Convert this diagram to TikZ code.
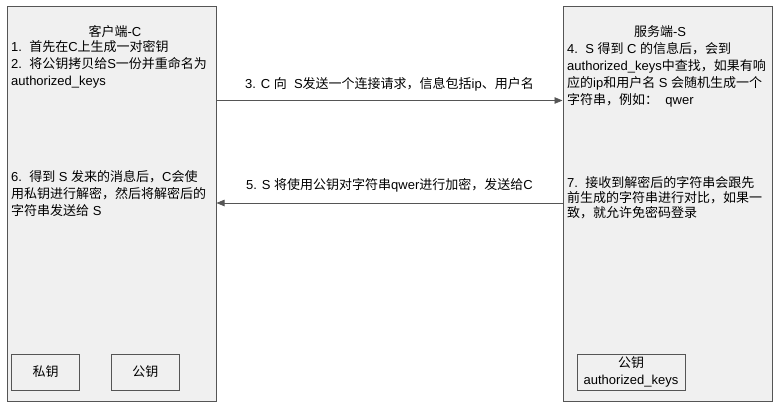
\documentclass[tikz,border=0pt]{standalone}
\usepackage{fontspec}
\setmainfont{Liberation Sans}
\newfontfamily\cjkfont{Noto Sans CJK SC}
\newfontfamily\latfont{Liberation Sans}
\XeTeXinterchartokenstate=1
\newXeTeXintercharclass\cjkclass
\newcount\charidx
\def\setcjkrange#1#2{\charidx=#1\relax
 \loop\XeTeXcharclass\charidx=\cjkclass\advance\charidx by 1\relax\ifnum\charidx<#2\relax\repeat}
\setcjkrange{"3000}{"3040}
\setcjkrange{"4E00}{"A000}
\setcjkrange{"FF00}{"FFF0}
\XeTeXinterchartoks 0 \cjkclass = {\cjkfont}
\XeTeXinterchartoks 4095 \cjkclass = {\cjkfont}
\XeTeXinterchartoks \cjkclass 0 = {\latfont}
\XeTeXinterchartoks \cjkclass 4095 = {\latfont}
\usetikzlibrary{positioning,arrows.meta}
\definecolor{panelfill}{HTML}{F0F0F0}
\definecolor{edge}{HTML}{555555}
\begin{document}
\begin{tikzpicture}[x=1pt,y=-1pt,
 every node/.style={font=\fontsize{13}{17}\selectfont},
 panel/.style={draw=edge,fill=panelfill,line width=1pt,minimum width=209pt,minimum height=395pt,inner sep=0pt},
 keybox/.style={draw=edge,fill=panelfill,line width=0.8pt,minimum height=36pt,inner sep=0pt,align=center},
 msg/.style={align=left,inner sep=0pt,anchor=north west},
 link/.style={draw=edge,line width=0.8pt,-{Triangle[length=8pt,width=6.5pt]}}]
 \useasboundingbox (0,0) rectangle (780,408);
 \node[panel] (client) at (111.5,203.5) {};
 \node[panel, right=346pt of client] (server) {};
 \node (clienttitle) at (115,32) {客户端-C};
 \node (servertitle) at (660,32) {服务端-S};
 \node[msg] (clientinfo) at (11,40.5) {1.\ \ 首先在C上生成一对密钥\\2.\ \ 将公钥拷贝给S一份并重命名为\\authorized\_keys};
 \node[msg] (serverinfo) at (567,42) {4.\ \ S 得到 C 的信息后，会到\\authorized\_keys中查找，如果有响\\应的ip和用户名 S 会随机生成一个\\字符串，例如：\ \ qwer};
 \node[msg] (clientreply) at (11,170.5) {6.\ \ 得到 S 发来的消息后，C会使\\用私钥进行解密，然后将解密后的\\字符串发送给 S};
 \node[msg, font=\fontsize{13}{15}\selectfont] (servercheck) at (567,176) {7.\ \ 接收到解密后的字符串会跟先\\前生成的字符串进行对比，如果一\\致，就允许免密码登录};
 \node[keybox, minimum width=68pt] (privkey) at (45.5,372) {私钥};
 \node[keybox, minimum width=68pt, right=31pt of privkey] (pubkey) {公钥};
 \node[keybox, minimum width=108pt] (authkey) at (631,372) {公钥\\authorized\_keys};
 \coordinate (req) at (0,100.5);
 \coordinate (enc) at (0,203);
 \draw[link] (client.east |- req) -- node[above=6pt] (reqlabel) {3. C 向\ \ S发送一个连接请求，信息包括ip、用户名} (server.west |- req);
 \draw[link] (server.west |- enc) -- node[above=7pt] (enclabel) {5. S 将使用公钥对字符串qwer进行加密，发送给C} (client.east |- enc);
\end{tikzpicture}
\end{document}
